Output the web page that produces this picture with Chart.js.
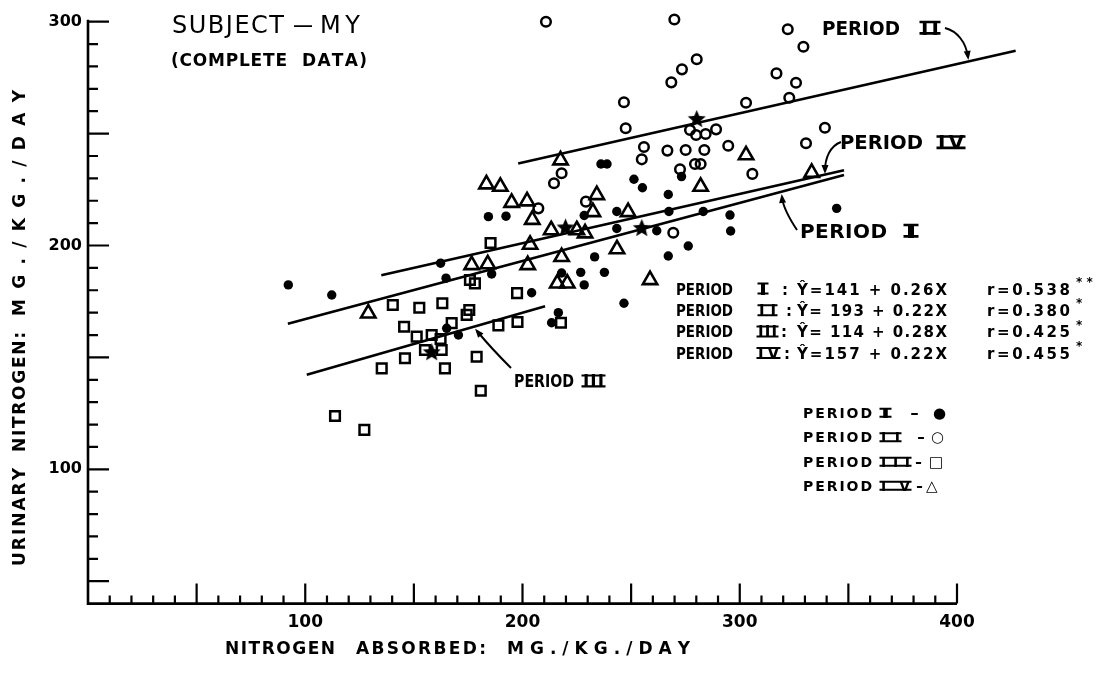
<!DOCTYPE html>
<html><head><meta charset="utf-8">
<script src="https://cdn.jsdelivr.net/npm/chart.js@4.4.1/dist/chart.umd.min.js"></script>
<style>html,body{margin:0;padding:0;background:#fff;}canvas{display:block;}</style>
</head><body>
<canvas id="c" width="1106" height="673" style="width:1106px;height:673px"></canvas>
<script>
// ---- axis ranges & tick labels ----
const xRange = [0, 400];
const yRange = [40, 300];
const xTickLabels = [100, 200, 300, 400];
const yTickLabels = [100, 200, 300];

// ---- Period I (filled dots) ----
const p1x = [92.2,112.2,162.3,164.8,185.8,184.3,192.4,228.4,236.1,238.9,243.4,251.3,255.2,267.1,267.4,283.2,295.5,295.8,273.2,276.3,267.1,261.8,243.4,233.2,226.8,237.7,218.0,228.4,246.7,204.2,216.5,213.4,344.6,165.1,170.5];
const p1y = [182.4,177.9,192.1,185.4,187.3,212.9,213.1,213.4,236.4,236.4,215.2,229.6,225.8,222.8,215.2,215.2,213.6,206.5,230.8,199.8,195.3,206.6,207.6,194.9,188.0,188.0,187.7,182.4,174.2,178.9,170.0,165.5,216.6,163.0,160.0];
// ---- Period II (open circles) ----
const p2x = [210.8,269.9,280.2,273.4,268.5,316.9,246.7,302.9,247.5,277.1,279.9,284.3,289.1,255.9,254.9,266.7,275.1,283.7,294.7,279.4,282.0,272.5,305.8,218.0,214.5,229.2,207.3,269.4,322.1,329.3,325.9,322.8,339.2,330.5];
const p2y = [300,301,283.2,278.7,272.9,276.9,264.0,263.8,252.4,251.6,249.4,249.8,251.9,244.0,238.5,242.4,242.7,242.7,244.6,236.4,236.4,234.1,232.0,232.3,227.8,219.6,216.6,205.7,296.6,288.8,272.7,266.0,252.6,245.7];
// ---- Period III (open squares) ----
const p3x = [185.3,140.3,152.5,163.1,145.5,151.3,158.2,162.3,155.1,162.8,145.9,135.2,164.3,167.4,175.5,174.3,175.8,178.1,178.9,180.8,188.9,197.5,197.7,113.7,127.2,217.7];
const p3y = [201.1,173.4,172.2,174.2,163.7,159.3,160.0,158.2,153.3,153.3,149.6,145.1,145.1,165.3,171.2,169.0,184.6,183.1,150.3,135.1,164.3,178.7,165.8,123.8,117.6,165.5];
// ---- Period IV (open triangles) ----
const p4x = [129.0,183.4,189.8,195.0,202.1,204.5,203.5,184.0,202.4,217.5,213.2,225.0,228.8,218.0,234.2,232.4,248.6,243.5,258.7,216.0,220.6,176.6,282.0,302.9,333.1];
const p4y = [169.7,227.4,226.3,219.1,219.8,211.5,200.4,191.7,191.3,238.1,206.9,206.9,205.5,194.9,222.6,215.0,215.0,198.4,184.6,183.1,183.1,191.3,226.3,240.4,232.5];
// ---- period means (stars) ----
const meanX = [158.2,219.8,254.9,280.2];
const meanY = [152.6,208.3,208.1,256.8];
// ---- regression lines (end points) ----
const lineIx = [92, 348],    lineIy = [165.0, 231.5];
const lineIIx = [198, 427],  lineIIy = [236.6, 287.0];
const lineIIIx = [100.7, 210.4], lineIIIy = [142.2, 172.9];
const lineIVx = [135, 348],  lineIVy = [186.7, 233.6];

const zip = (xs, ys) => xs.map((x, i) => ({x, y: ys[i]}));
const FONT = "'DejaVu Sans'";

function makeStar(r){
  const c = document.createElement('canvas');
  const s = Math.ceil(r*2+2); c.width = c.height = s;
  const g = c.getContext('2d'); g.translate(s/2, s/2+1);
  g.beginPath();
  for (let i=0;i<10;i++){ const rr = i%2 ? r*0.45 : r; const a = -Math.PI/2 + i*Math.PI/5; g.lineTo(rr*Math.cos(a), rr*Math.sin(a)); }
  g.closePath(); g.fillStyle = '#000'; g.fill();
  return c;
}

function fitText(ctx, text, left, cy, width, font){
  ctx.font = font; ctx.textBaseline = 'middle'; ctx.textAlign = 'left';
  const ch = [...text];
  const w = ch.map(c => ctx.measureText(c).width);
  const tot = w.reduce((a,b)=>a+b,0);
  if (width == null) { ctx.fillText(text, left, cy); return; }
  if (ch.length === 1 || tot > width) {
    const sx = width / tot;
    ctx.save(); ctx.translate(left, cy); ctx.scale(sx, 1);
    ctx.fillText(text, 0, 0); ctx.restore(); return;
  }
  const gap = (width - tot) / (ch.length - 1);
  let x = left;
  ch.forEach((c,i)=>{ ctx.fillText(c, x, cy); x += w[i] + gap; });
}

// Roman numeral in lettering-guide style: letters with a bar on top and bottom
function roman(ctx, text, left, cy, width, font, lw){
  fitText(ctx, text, left, cy, width, font);
  ctx.font = font; ctx.textBaseline = 'middle';
  const m = ctx.measureText('I');
  const top = cy - m.actualBoundingBoxAscent, bot = cy + m.actualBoundingBoxDescent;
  ctx.save(); ctx.lineWidth = lw || 2.4; ctx.lineCap = 'butt';
  ctx.beginPath();
  ctx.moveTo(left - 1.5, top + ctx.lineWidth/2); ctx.lineTo(left + width + 1.5, top + ctx.lineWidth/2);
  ctx.moveTo(left - 1.5, bot - ctx.lineWidth/2); ctx.lineTo(left + width + 1.5, bot - ctx.lineWidth/2);
  ctx.stroke(); ctx.restore();
}

function arrow(ctx, pts, head){
  ctx.beginPath(); ctx.moveTo(pts[0],pts[1]);
  ctx.bezierCurveTo(pts[2],pts[3],pts[4],pts[5],pts[6],pts[7]); ctx.stroke();
  const ang = Math.atan2(pts[7]-pts[5], pts[6]-pts[4]);
  const L = head || 9, W = 3.5;
  const tx = pts[6] + Math.cos(ang)*3, ty = pts[7] + Math.sin(ang)*3;
  ctx.beginPath(); ctx.moveTo(tx, ty);
  ctx.lineTo(tx - L*Math.cos(ang) + W*Math.sin(ang), ty - L*Math.sin(ang) - W*Math.cos(ang));
  ctx.lineTo(tx - L*Math.cos(ang) - W*Math.sin(ang), ty - L*Math.sin(ang) + W*Math.cos(ang));
  ctx.closePath(); ctx.fill();
}

const decor = {
  id: 'decor',
  afterDraw(chart){
    const {ctx, scales:{x, y}} = chart;
    ctx.save();
    ctx.fillStyle = '#000'; ctx.strokeStyle = '#000';
    // axes
    const x0 = x.getPixelForValue(xRange[0]), x1 = x.getPixelForValue(xRange[1]);
    const y0 = y.getPixelForValue(yRange[0]), y1 = y.getPixelForValue(yRange[1]);
    ctx.lineWidth = 2.6; ctx.lineJoin = 'miter';
    ctx.beginPath(); ctx.moveTo(x0, y1-2); ctx.lineTo(x0, y0); ctx.lineTo(x1, y0); ctx.stroke();
    ctx.lineWidth = 2.2; ctx.beginPath();
    for (let v = xRange[0]+10; v <= xRange[1]; v += 10){
      const p = x.getPixelForValue(v); const len = v % 50 === 0 ? 20 : 8;
      ctx.moveTo(p, y0); ctx.lineTo(p, y0-len);
    }
    for (let v = 50; v <= yRange[1]; v += 10){
      const p = y.getPixelForValue(v); const len = v % 50 === 0 ? 21 : 10;
      ctx.moveTo(x0, p); ctx.lineTo(x0+len, p);
    }
    ctx.stroke();

    // titles
    fitText(ctx, 'SUBJECT', 172, 26.5, 112, `24px ${FONT}`);
    fitText(ctx, '—', 293, 26.5, 20, `24px ${FONT}`);
    fitText(ctx, 'MY', 320, 26.5, 40, `24px ${FONT}`);
    fitText(ctx, '(COMPLETE', 171, 61.5, 116, `bold 17px ${FONT}`);
    fitText(ctx, 'DATA)', 302, 61.5, 65, `bold 17px ${FONT}`);
    const TF = `bold 17px ${FONT}`;
    fitText(ctx, 'NITROGEN', 225, 650, 110, TF);
    fitText(ctx, 'ABSORBED:', 356, 650, 130, TF);
    fitText(ctx, 'MG./KG./DAY', 507, 650, 183, TF);
    ctx.save(); ctx.translate(21, 0); ctx.rotate(-Math.PI/2);
    // rotated: x coordinate = -pageY
    fitText(ctx, 'URINARY', -566, 0, 98, TF);
    fitText(ctx, 'NITROGEN:', -452, 0, 120, TF);
    fitText(ctx, 'MG./KG./DAY', -316, 0, 226, TF);
    ctx.restore();

    // line annotations
    const AF = `bold 20px ${FONT}`;
    fitText(ctx, 'PERIOD', 822, 29.5, 78, AF); roman(ctx, 'II', 921, 29.5, 18, AF, 2.6);
    fitText(ctx, 'PERIOD', 840, 144, 83, AF); roman(ctx, 'IV', 938, 144, 26, AF, 2.6);
    fitText(ctx, 'PERIOD', 800, 232.5, 87, AF); roman(ctx, 'I', 905, 232.5, 12, AF, 2.6);
    const AF3 = `bold 17px ${FONT}`;
    fitText(ctx, 'PERIOD', 514, 383, 60, AF3); roman(ctx, 'III', 583, 383, 21, AF3, 2.2);
    ctx.lineWidth = 2;
    arrow(ctx, [945,28, 957,31, 966,42, 968,57]);
    arrow(ctx, [841,142, 830,146, 825,158, 825,171]);
    arrow(ctx, [797,230, 789,218, 783,207, 782,197]);
    arrow(ctx, [511,368, 499,356, 486,342, 477,331]);

    // equations
    const EF = `bold 15px ${FONT}`;
    const rows = [290.7, 312.3, 333.5, 355];
    const nums = [['I',759,8,782],['II',759,17,786],['III',758,19,781],['IV',758,21,784]];
    const eqs = ['Ŷ=141 + 0.26X','Ŷ= 193 + 0.22X','Ŷ= 114 + 0.28X','Ŷ=157 + 0.22X'];
    const rs = ['r=0.538','r=0.380','r=0.425','r=0.455'];
    const stars = ['* *','*','*','*'];
    rows.forEach((cy,i)=>{
      fitText(ctx, 'PERIOD', 676, cy, 57, EF);
      roman(ctx, nums[i][0], nums[i][1], cy, nums[i][2], EF, 2);
      fitText(ctx, ':', nums[i][3], cy, null, EF);
      fitText(ctx, eqs[i], 797, cy, 150, EF);
      fitText(ctx, rs[i], 987, cy, 83, EF);
      fitText(ctx, stars[i], 1076, cy-8, null, `bold 12px ${FONT}`);
    });

    // legend
    const LF = `bold 14px ${FONT}`;
    const lrows = [414, 438.5, 463, 487];
    const lnums = [['I',881,9],['II',881,19],['III',881,29],['IV',881,29]];
    const dash = [[910,9],[917,8],[915,7],[916,7]];
    const marks = [['●',933],['○',931],['□',929],['△',926]];
    lrows.forEach((cy,i)=>{
      fitText(ctx, 'PERIOD', 803, cy, 69, LF);
      roman(ctx, lnums[i][0], lnums[i][1], cy, lnums[i][2], LF, 2);
      fitText(ctx, '-', dash[i][0], cy, dash[i][1], LF);
      fitText(ctx, marks[i][0], marks[i][1], cy, null, `bold 15px ${FONT}`);
    });
    ctx.restore();
  }
};

const lineDs = (xs, ys) => ({type:'line', data: zip(xs, ys), borderColor:'#000', borderWidth:2.6, pointRadius:0, showLine:true, fill:false, clip:false});
const open = 'rgba(0,0,0,0)';

new Chart(document.getElementById('c'), {
  type: 'scatter',
  data: { datasets: [
    lineDs(lineIx, lineIy), lineDs(lineIIx, lineIIy), lineDs(lineIIIx, lineIIIy), lineDs(lineIVx, lineIVy),
    {label:'Period I', data: zip(p1x,p1y), pointStyle:'circle', pointRadius:4.7, backgroundColor:'#000', borderColor:'#000', borderWidth:0, clip:false},
    {label:'Period II', data: zip(p2x,p2y), pointStyle:'circle', pointRadius:4.8, backgroundColor:open, borderColor:'#000', borderWidth:2.5, clip:false},
    {label:'Period III', data: zip(p3x,p3y), pointStyle:'rect', pointRadius:6.8, backgroundColor:open, borderColor:'#000', borderWidth:2.5, clip:false},
    {label:'Period IV', data: zip(p4x,p4y), pointStyle:'triangle', pointRadius:8.3, backgroundColor:open, borderColor:'#000', borderWidth:2.6, clip:false},
    {label:'Means', data: zip(meanX,meanY), pointStyle: makeStar(9.5), pointRadius:9, clip:false}
  ]},
  options: {
    responsive:false, animation:false, devicePixelRatio:1,
    layout:{ padding:{ left:0, top:21.7, right:149, bottom:0 } },
    plugins:{ legend:{display:false}, tooltip:{enabled:false} },
    scales:{
      x:{ type:'linear', min:xRange[0], max:xRange[1],
          grid:{display:false, drawTicks:false}, border:{display:false},
          afterBuildTicks: s => { s.ticks = xTickLabels.map(v=>({value:v})); },
          afterFit: s => { s.height = 673 - 603.6; },
          ticks:{ padding:9, color:'#000', maxRotation:0, autoSkip:false, font:{family:FONT, weight:'bold', size:17} } },
      y:{ type:'linear', min:yRange[0], max:yRange[1],
          grid:{display:false, drawTicks:false}, border:{display:false},
          afterBuildTicks: s => { s.ticks = yTickLabels.map(v=>({value:v})); },
          afterFit: s => { s.width = 88; },
          ticks:{ padding:6, color:'#000', font:{family:FONT, weight:'bold', size:16} } }
    }
  },
  plugins:[decor]
});
</script>
</body></html>
